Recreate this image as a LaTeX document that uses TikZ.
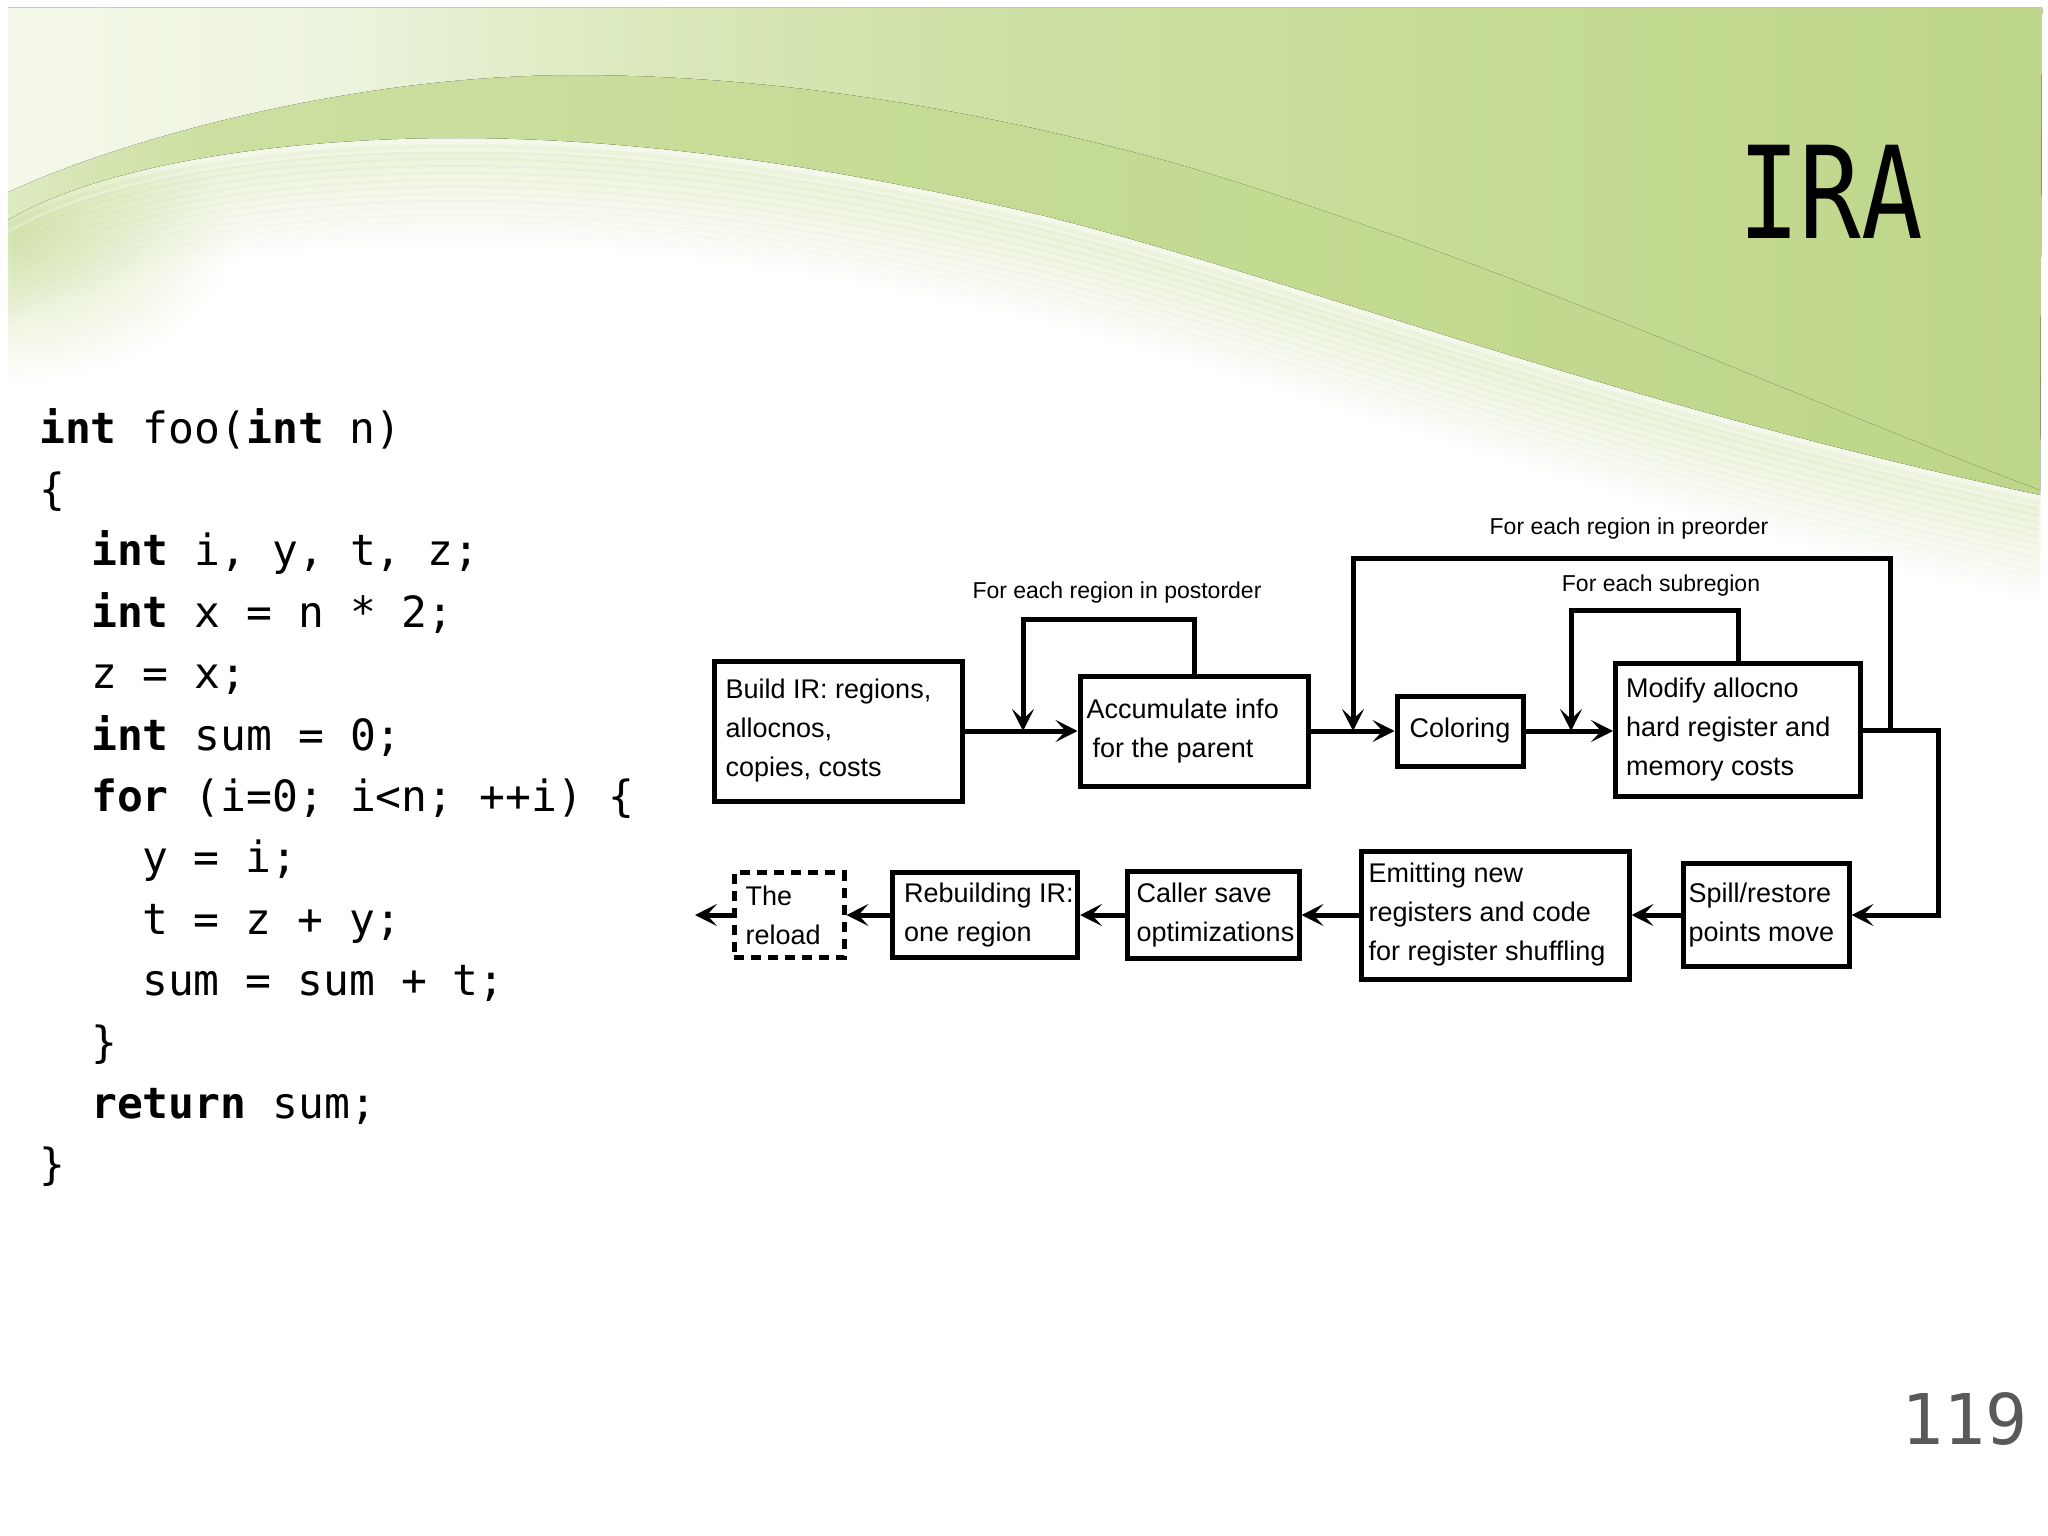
\documentclass[tikz,border=0pt]{standalone}
\usepackage{fontspec}
\usepackage{graphicx}
\usetikzlibrary{arrows.meta}
\setmainfont{Liberation Sans}
\newfontfamily\codefont{DejaVu Sans Mono}
\newfontfamily\diagfont{Liberation Sans}
\definecolor{gBand}{HTML}{C6DC96}
\definecolor{gDark}{HTML}{BED689}
\definecolor{pgnum}{HTML}{58595B}
% visible range of a path shading is 25bp..75bp
\pgfdeclarehorizontalshading{bgA}{100bp}{color(0bp)=(white!80!gBand); color(25bp)=(white!80!gBand); color(33bp)=(white!68!gBand); color(41bp)=(white!35!gBand); color(50bp)=(white!12!gBand); color(60bp)=(gBand); color(75bp)=(gDark); color(100bp)=(gDark)}
\pgfdeclarehorizontalshading{bgB}{100bp}{color(0bp)=(white!40!gBand); color(25bp)=(white!40!gBand); color(30bp)=(white!10!gBand); color(45bp)=(gBand); color(75bp)=(gDark); color(100bp)=(gDark)}
\def\innerc{(8,220) .. controls (100,165) and (280,138) .. (457,138) .. controls (650,138) and (850,170) .. (1045,216) .. controls (1300,280) and (1600,400) .. (2040,495)}
\def\outerc{(8,192) .. controls (120,140) and (350,75) .. (575,75) .. controls (780,75) and (980,110) .. (1175,163) .. controls (1500,260) and (1800,400) .. (2040,490)}
\tikzset{
  box/.style={draw, line width=5pt, inner sep=0pt},
  btxt/.style={font=\diagfont\fontsize{27}{39}\selectfont, align=left, inner sep=0pt, anchor=west},
  lbl/.style={font=\diagfont\fontsize{23}{27}\selectfont, inner sep=0pt},
  arr/.style={line width=5pt, -{Stealth[length=22pt,width=22pt,inset=10pt]}},
  codeln/.style={font=\codefont\fontsize{43}{52}\selectfont, anchor=base west, inner sep=0pt},
}
\begin{document}
\begin{tikzpicture}[x=1pt,y=-1pt]
\useasboundingbox (0,0) rectangle (2048,1536);
\fill[white] (0,0) rectangle (2048,1536);
% background swoosh
\begin{scope}
\clip (8,8) rectangle (2042,1530);
\shade[inner color=white!35!gBand, outer color=white] (8,235) ellipse [x radius=230pt, y radius=150pt];
\foreach \k in {1,...,14}{
  \pgfmathsetmacro\op{0.20-0.013*\k}
  \pgfmathsetmacro\dy{7*\k}
  \draw[line width=16pt, draw=gBand, draw opacity=\op, shift={(0,\dy)}] \innerc;
}
\fill[shading=bgB] \innerc -- (2042,8) -- (8,8) -- cycle;
\draw[line width=3pt, draw=white, draw opacity=0.3, shift={(0,12)}] \innerc;
\fill[shading=bgA] \outerc -- (2042,8) -- (8,8) -- cycle;
\end{scope}
% title and page number
\node[anchor=base west, inner sep=0pt] (title) at (1738,238) {\scalebox{0.8}[1]{\codefont\fontsize{128}{130}\selectfont IRA}};
\node[anchor=base west, inner sep=0pt, text=pgnum] (pg) at (1901,1444) {\codefont\fontsize{70}{80}\selectfont 119};
% code
\node[codeln] (c1) at (39,443) {\textbf{int} foo(\textbf{int} n)};
\node[codeln] (c2) at (39,504.4) {\{};
\node[codeln] (c3) at (91,565.8) {\textbf{int} i, y, t, z;};
\node[codeln] (c4) at (91,627.2) {\textbf{int} x = n * 2;};
\node[codeln] (c5) at (91,688.6) {z = x;};
\node[codeln] (c6) at (91,750) {\textbf{int} sum = 0;};
\node[codeln] (c7) at (91,811.4) {\textbf{for} (i=0; i<n; ++i) \{};
\node[codeln] (c8) at (142,872.8) {y = i;};
\node[codeln] (c9) at (142,934.2) {t = z + y;};
\node[codeln] (c10) at (142,995.6) {sum = sum + t;};
\node[codeln] (c11) at (91,1057) {\}};
\node[codeln] (c12) at (91,1118.4) {\textbf{return} sum;};
\node[codeln] (c13) at (39,1179.8) {\}};
% diagram boxes
\node[box, minimum width=248pt, minimum height=140pt] (build) at (838,731) {};
\node[btxt] (buildT) at ([xshift=14pt]build.west) {Build IR: regions,\\allocnos,\\copies, costs};
\node[box, minimum width=228pt, minimum height=110pt] (acc) at (1194,731) {};
\node[btxt] (accT) at ([xshift=9pt]acc.west) {Accumulate info\\\hspace*{6pt}for the parent};
\node[box, minimum width=126pt, minimum height=70pt, font=\diagfont\fontsize{27}{39}\selectfont] (col) at (1460,731) {Coloring};
\node[box, minimum width=245pt, minimum height=133pt] (mod) at (1738,730) {};
\node[btxt] (modT) at ([xshift=13pt]mod.west) {Modify allocno\\hard register and\\memory costs};
\node[box, minimum width=166pt, minimum height=103pt] (spill) at (1766,915) {};
\node[btxt] (spillT) at ([xshift=8pt]spill.west) {Spill/restore\\points move};
\node[box, minimum width=268pt, minimum height=128pt] (emit) at (1495,915) {};
\node[btxt] (emitT) at ([xshift=10pt]emit.west) {Emitting new\\registers and code\\for register shuffling};
\node[box, minimum width=172pt, minimum height=87pt] (caller) at (1213,915) {};
\node[btxt] (callerT) at ([xshift=12pt]caller.west) {Caller save\\optimizations};
\node[box, minimum width=185pt, minimum height=85pt] (rebuild) at (985,915) {};
\node[btxt] (rebuildT) at ([xshift=14pt]rebuild.west) {Rebuilding IR:\\one region};
\node[box, dash pattern=on 10pt off 7pt, minimum width=110pt, minimum height=85pt] (reload) at (789,915) {};
\node[btxt] (reloadT) at ([xshift=14pt]reload.west) {The\\reload};
% labels
\node[lbl] (lpost) at (1117,593) {For each region in postorder};
\node[lbl] (lpre) at (1629,529) {For each region in preorder};
\node[lbl] (lsub) at (1661,586) {For each subregion};
% helper coordinates
\coordinate (postL) at (1023,619);
\coordinate (preR) at (1890,558);
\coordinate (preL) at (1353,558);
\coordinate (subL) at (1571,610);
\coordinate (rt) at (1938,730);
\coordinate (out) at (695,915);
% connectors
\draw[arr] (build.east) -- (acc.west);
\draw[arr] (acc.north) |- (postL) -- (postL |- acc.west);
\draw[arr] (acc.east) -- (col.west);
\draw[arr] (preR |- mod.east) -- (preR) -- (preL) -- (preL |- col.west);
\draw[arr] (col.east) -- (col.east -| mod.west);
\draw[arr] (mod.north) |- (subL) -- (subL |- col.east);
\draw[arr] (mod.east) -- (rt) |- (spill.east);
\draw[arr] (spill.west) -- (emit.east);
\draw[arr] (emit.west) -- (caller.east);
\draw[arr] (caller.west) -- (rebuild.east);
\draw[arr] (rebuild.west) -- (reload.east);
\draw[arr] (reload.west) -- (out);
\end{tikzpicture}
\end{document}
